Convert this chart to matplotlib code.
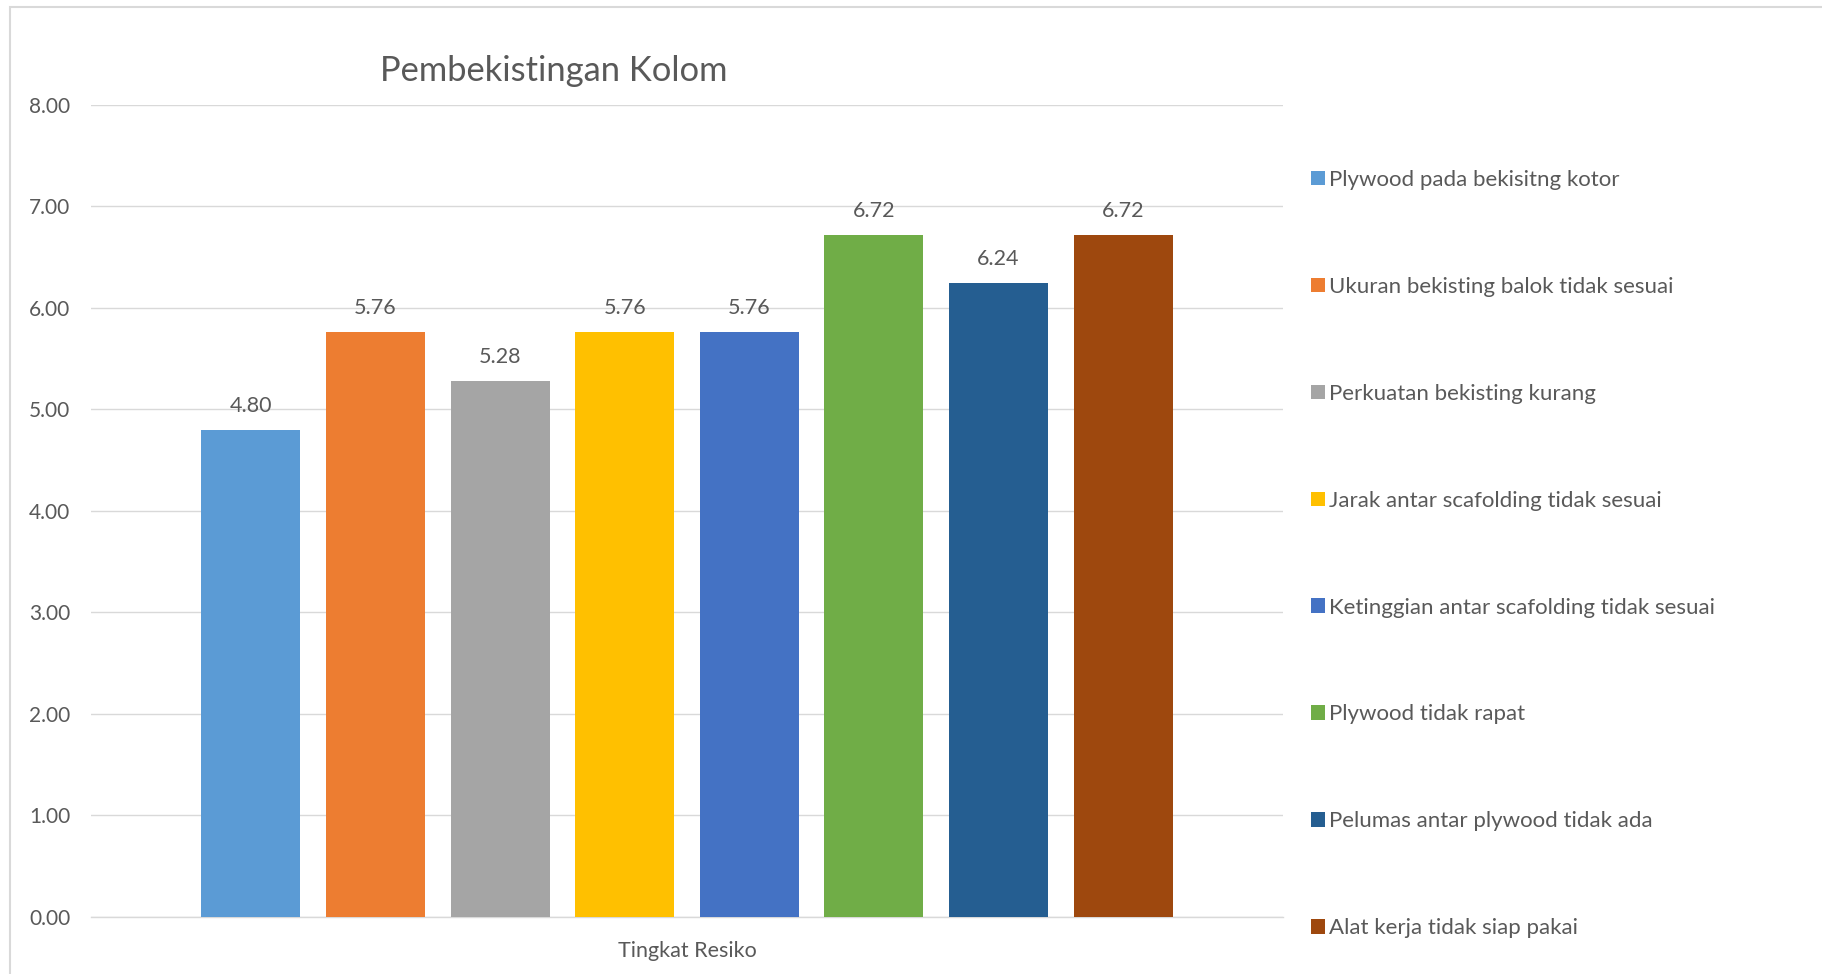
import numpy as np
import matplotlib
matplotlib.use("Agg")
import matplotlib.pyplot as plt
from matplotlib.patches import Rectangle

series = [
    "Plywood pada bekisitng kotor",
    "Ukuran bekisting balok tidak sesuai",
    "Perkuatan bekisting kurang",
    "Jarak antar scafolding tidak sesuai",
    "Ketinggian antar scafolding tidak sesuai",
    "Plywood tidak rapat",
    "Pelumas antar plywood tidak ada",
    "Alat kerja tidak siap pakai",
]
values = [4.80, 5.76, 5.28, 5.76, 5.76, 6.72, 6.24, 6.72]
colors = ["#5B9BD5", "#ED7D31", "#A5A5A5", "#FFC000",
          "#4472C4", "#70AD47", "#255E91", "#9E480E"]
category = "Tingkat Resiko"
yticks = np.arange(0, 9, 1)

TXT = "#595959"
GRID = "#D9D9D9"
plt.rcParams["font.family"] = ["Lato", "DejaVu Sans"]

W, H = 1822, 974
fig = plt.figure(figsize=(W / 100, H / 100), dpi=100)
ax = fig.add_axes([91 / W, 1 - 917 / H, (1283 - 91) / W, (917 - 104.6) / H])

x = np.arange(len(values))
bars = []
for i, (v, c, s) in enumerate(zip(values, colors, series)):
    b = ax.bar(x[i], v, width=0.795, color=c, label=s, zorder=3)
    ax.bar_label(b, labels=[f"{v:.2f}"], padding=10, fontsize=15.5, color=TXT)
    bars.append(b)

ax.set_xlim(3.5 - 4.784, 3.5 + 4.784)
ax.set_ylim(0, 8)
ax.set_yticks(yticks)
ax.set_yticklabels([f"{t:.2f}" for t in yticks])
ax.set_xticks([3.5])
ax.set_xticklabels([category])
ax.tick_params(axis="y", length=0, pad=15, labelsize=15, labelcolor=TXT)
ax.tick_params(axis="x", length=0, pad=17, labelsize=15.5, labelcolor=TXT)
ax.grid(axis="y", color=GRID, lw=1.0, zorder=0)
for s in ["top", "right", "left"]:
    ax.spines[s].set_visible(False)
ax.spines["bottom"].set_color(GRID)
ax.spines["bottom"].set_linewidth(1.0)

fig.text(554 / W, 1 - 70.5 / H, "Pembekistingan Kolom", ha="center", va="center",
         fontsize=24.8, color=TXT)

fig.legend(handles=[b[0] for b in bars], labels=series, loc="upper left",
           bbox_to_anchor=(1311 / W, 1 - 170 / H), frameon=False, fontsize=16,
           handlelength=0.63, handleheight=0.63, handletextpad=0.2,
           labelspacing=3.91, borderpad=0, borderaxespad=0, labelcolor=TXT)

# chart frame (left and top edges visible in the reference)
fig.add_artist(Rectangle((9.5 / W, -0.1), 1.2, 1.1 - 6.5 / H, transform=fig.transFigure,
                         fill=False, edgecolor=GRID, lw=1.5))

fig.savefig("out.png", dpi=100)
